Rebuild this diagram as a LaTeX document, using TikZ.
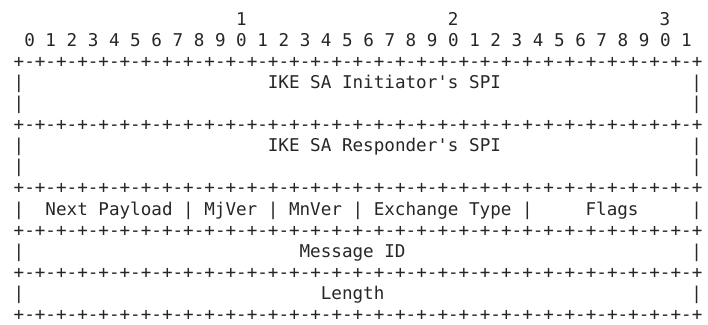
\documentclass[tikz,border=0pt]{standalone}
\usepackage{fontspec}
\setmonofont{DejaVu Sans Mono}
\newcommand\hdrfont{\ttfamily\fontsize{8.8pt}{10pt}\selectfont}
% one unit = one pixel column / row of the 708 x 325 layout, y grows downward
\tikzset{
  cell/.style={anchor=base west, inner sep=0pt, outer sep=0pt,
               font=\hdrfont, text=black!85},
}
% column col, text line ln -> base-line position of that character cell
\newcommand\cellat[2]{({13.7+10.59*(#1)},{25.32+21.08*(#2)})}
\begin{document}
\begin{tikzpicture}[x=0.5pt,y=-0.5pt]
  \useasboundingbox (0,0) rectangle (708,325);

  % bit numbering
  \node[cell] (tens1) at \cellat{21}{0} {1};
  \node[cell] (tens2) at \cellat{41}{0} {2};
  \node[cell] (tens3) at \cellat{61}{0} {3};
  \node[cell] (bits) at \cellat{1}{1}
    {0 1 2 3 4 5 6 7 8 9 0 1 2 3 4 5 6 7 8 9 0 1 2 3 4 5 6 7 8 9 0 1};

  % row separators
  \foreach \ln in {2,5,8,10,12,14}
    \node[cell] (border\ln) at \cellat{0}{\ln}
      {+-+-+-+-+-+-+-+-+-+-+-+-+-+-+-+-+-+-+-+-+-+-+-+-+-+-+-+-+-+-+-+-+};

  % outer walls
  \foreach \ln in {3,4,6,7,9,11,13} {
    \node[cell] (lwall\ln) at \cellat{0}{\ln} {|};
    \node[cell] (rwall\ln) at \cellat{64}{\ln} {|};
  }

  % 64-bit SPIs
  \node[cell] (ispi) at \cellat{24}{3} {IKE SA Initiator's SPI};
  \node[cell] (rspi) at \cellat{24}{6} {IKE SA Responder's SPI};

  % one-byte fields
  \node[cell] (np)    at \cellat{3}{9}  {Next Payload};
  \node[cell] (sep1)  at \cellat{16}{9} {|};
  \node[cell] (mjver) at \cellat{18}{9} {MjVer};
  \node[cell] (sep2)  at \cellat{24}{9} {|};
  \node[cell] (mnver) at \cellat{26}{9} {MnVer};
  \node[cell] (sep3)  at \cellat{32}{9} {|};
  \node[cell] (xtype) at \cellat{34}{9} {Exchange Type};
  \node[cell] (sep4)  at \cellat{48}{9} {|};
  \node[cell] (flags) at \cellat{54}{9} {Flags};

  % 32-bit words
  \node[cell] (msgid)  at \cellat{27}{11} {Message ID};
  \node[cell] (length) at \cellat{29}{13} {Length};
\end{tikzpicture}
\end{document}
